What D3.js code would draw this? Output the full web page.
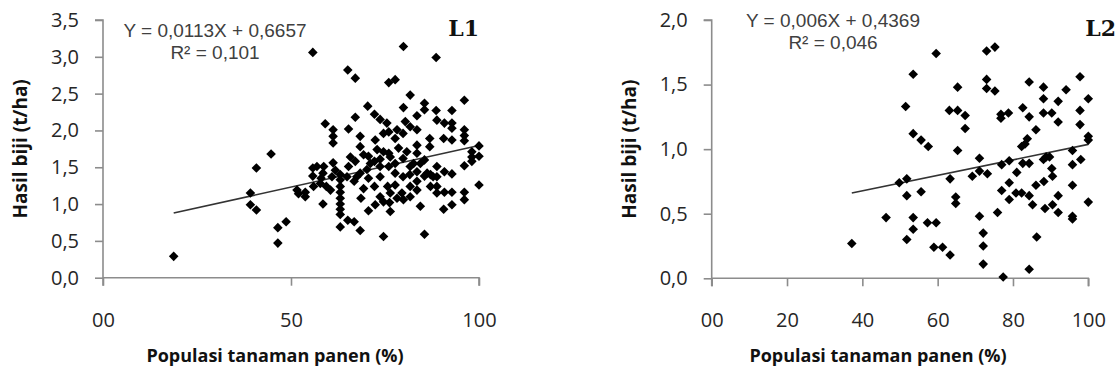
<!DOCTYPE html>
<html>
<head>
<meta charset="utf-8">
<script src="https://cdn.jsdelivr.net/npm/d3@7"></script>
<style>
  body { margin: 0; background: #fff; overflow: hidden; }
  svg { display: block; }
</style>
</head>
<body>
<script>
// plot L1 : [populasi %, hasil t/ha]
const l1Points = [
  [18.8,0.29],[39.2,1.15],[39.2,0.99],[40.8,0.92],[40.8,1.49],[44.7,1.68],[46.5,0.68],[48.7,0.76],
  [46.5,0.47],[51.6,1.19],[52.0,1.14],[53.8,1.10],[53.8,1.16],[55.8,3.06],[55.8,1.49],[55.8,1.38],
  [56.0,1.24],[57.8,1.28],[58.0,1.35],[58.5,1.42],[58.5,1.00],[59.1,2.09],[59.4,1.24],[61.2,2.01],
  [61.2,1.92],[61.2,1.83],[61.2,1.56],[63.1,1.40],[63.1,1.33],[63.1,1.24],[63.1,1.16],[63.1,1.08],
  [63.1,1.00],[63.1,0.93],[63.1,0.86],[63.1,0.69],[65.1,0.78],[66.8,0.76],[68.4,0.64],[65.1,2.82],
  [67.1,2.71],[65.3,1.51],[65.3,2.02],[64.9,1.37],[66.8,1.31],[67.1,2.18],[67.1,1.58],[68.4,1.92],
  [68.6,1.08],[68.4,1.42],[70.4,2.33],[70.6,1.65],[70.2,1.47],[70.6,1.35],[70.6,0.91],[72.2,2.22],
  [72.4,1.87],[72.2,1.58],[72.2,1.24],[72.4,0.99],[73.7,2.15],[73.7,1.61],[73.7,1.51],[73.7,1.37],
  [74.6,1.03],[74.6,0.56],[76.0,2.65],[77.7,2.69],[76.0,1.98],[76.0,1.69],[76.0,1.51],[75.7,1.24],
  [76.2,1.02],[76.4,0.90],[77.7,1.89],[77.7,1.55],[77.7,1.42],[77.7,1.26],[78.2,1.08],[79.9,3.14],
  [79.9,2.31],[79.8,1.96],[79.8,1.62],[79.8,1.37],[79.5,1.15],[81.7,2.48],[81.7,2.05],[81.7,1.51],
  [81.7,1.24],[81.6,1.40],[83.5,2.20],[83.5,1.80],[83.5,1.69],[83.5,1.44],[83.5,1.31],[83.5,1.19],
  [85.5,2.37],[85.5,2.28],[85.5,1.60],[85.5,1.38],[85.5,0.59],[86.9,1.89],[86.9,1.78],[87.1,1.40],
  [87.1,1.24],[88.6,2.99],[88.6,2.27],[88.8,2.14],[88.8,1.51],[88.8,1.37],[88.8,1.15],[90.8,2.10],
  [90.6,1.89],[90.8,1.16],[90.6,0.93],[92.8,2.27],[92.8,2.10],[92.8,2.03],[92.8,1.87],[92.8,1.41],
  [92.8,1.16],[92.8,0.99],[96.1,2.41],[96.1,2.01],[96.1,1.93],[96.1,1.86],[96.1,1.52],[96.1,1.16],
  [96.1,1.06],[98.1,1.71],[98.1,1.64],[98.1,1.58],[100,1.79],[100,1.65],[100,1.26],
  [69.3,1.67],[74.6,1.71],[76.4,1.64],[78.6,1.76],[80.8,1.71],[82.6,1.55],[84.4,1.55],[86.2,1.42],
  [87.8,1.37],[71.1,1.55],[72.9,1.74],[68.4,1.78],[65.8,1.64],[58.7,1.51],[56.9,1.51],[61.8,1.46],
  [60.5,1.19],[60.9,1.37],[67.5,1.37],[69.3,1.21],[73.7,1.10],[76.4,1.15],[79.9,1.06],[81.7,1.10],
  [84.4,0.97],[88.8,1.24],[90.8,1.44],[75.5,2.10],[80.4,2.12],[78.2,2.01],[83.5,2.01],[74.6,1.96]
];

// plot L2
const l2Points = [
  [37.2,0.27],[46.3,0.47],[49.8,0.74],[51.8,0.77],[51.8,0.64],[51.8,0.30],[51.5,1.33],[53.5,1.58],
  [53.5,1.12],[53.5,0.47],[53.5,0.38],[55.6,1.07],[55.6,0.67],[57.5,1.02],[57.3,0.43],[59.6,0.43],
  [59.6,1.74],[59.0,0.24],[61.3,0.24],[63.3,0.18],[63.3,0.77],[63.1,1.30],[65.3,1.30],[65.3,1.48],
  [65.3,0.99],[64.8,0.63],[64.8,0.58],[67.3,1.26],[67.3,1.16],[69.2,0.79],[71.1,0.93],[71.1,0.83],
  [73.2,0.81],[71.1,0.48],[72.1,0.35],[72.1,0.25],[72.1,0.11],[73.0,1.76],[75.2,1.79],[73.0,1.54],
  [73.0,1.47],[75.2,1.45],[75.9,0.51],[76.8,1.24],[76.8,1.27],[78.8,1.28],[77.0,0.88],[79.0,0.91],
  [77.0,0.68],[79.0,0.74],[79.0,0.61],[77.4,0.01],[81.0,0.82],[80.8,0.66],[82.3,0.66],[82.6,0.89],
  [82.6,1.32],[82.3,1.02],[83.2,1.04],[83.8,1.08],[84.3,0.89],[84.3,1.25],[84.3,1.52],[84.3,0.64],
  [85.2,0.57],[86.3,0.32],[84.3,0.07],[86.1,1.15],[86.1,0.72],[88.1,1.28],[88.1,0.92],[88.2,0.75],
  [88.5,0.54],[88.1,1.48],[88.1,1.39],[90.3,1.28],[89.7,0.94],[90.3,0.85],[90.5,0.79],[90.5,0.57],
  [92.0,0.64],[92.0,0.51],[92.0,1.37],[92.0,1.21],[94.1,1.46],[95.8,0.99],[95.8,0.88],[95.8,0.72],
  [95.8,0.48],[95.8,0.46],[97.8,1.56],[97.8,1.30],[97.8,1.19],[98.0,0.92],[100,1.39],[100,1.10],
  [100,1.07],[100,0.59],[88.8,0.94]
];

// regression: [slope, intercept]
const l1Fit = [0.0113, 0.6657];
const l2Fit = [0.006, 0.4369];

const l1XTicks = [0, 50, 100];
const l2XTicks = [0, 20, 40, 60, 80, 100];
const l1YTicks = [0, 0.5, 1, 1.5, 2, 2.5, 3, 3.5];
const l2YTicks = [0, 0.5, 1, 1.5, 2];

const l1Eq = ["Y = 0,0113X + 0,6657", "R\u00b2 = 0,101"];
const l2Eq = ["Y = 0,006X + 0,4369", "R\u00b2 = 0,046"];

const W = 1118, H = 380;
const svg = d3.select("body").append("svg").attr("width", W).attr("height", H);

const tickFont = '"Open Sans", "Noto Sans", sans-serif';
const axisColor = "#8c8c8c";

function drawPanel(cfg) {
    const xScale = d3.scaleLinear().domain([0, 100]).range([cfg.x0, cfg.x1]);
    const yScale = d3.scaleLinear().domain([0, cfg.yMax]).range([cfg.yBottom, cfg.yTop]);

    const xAxis = d3.axisBottom(xScale).tickValues(cfg.xTicks)
        .tickSize(8).tickPadding(27)
        .tickFormat((d) => d === 0 ? "00" : d);
    const yAxis = d3.axisLeft(yScale).tickValues(cfg.yTicks)
        .tickSize(8).tickPadding(16)
        .tickFormat((d) => d3.format(".1f")(d).replace(".", ","));

    const gx = svg.append("g")
        .attr("class", "xaxis")
        .attr("transform", "translate(0," + cfg.yBottom + ")")
        .call(xAxis);
    const gy = svg.append("g")
        .attr("class", "yaxis")
        .attr("transform", "translate(" + cfg.x0 + ",0)")
        .call(yAxis);

    [gx, gy].forEach((g) => {
        g.selectAll("path.domain").attr("stroke", axisColor).attr("stroke-width", 1.6);
        g.selectAll(".tick line").attr("stroke", axisColor).attr("stroke-width", 1.6);
        g.selectAll(".tick text")
            .attr("fill", "#262626")
            .style("font-family", tickFont)
            .style("font-size", "20px");
    });
    // y domain: no outer tick at bottom, keep top one
    gy.select("path.domain").attr("d", "M-8," + cfg.yTop + "H0V" + (cfg.yBottom + 8));
    gx.select("path.domain").attr("d", "M" + cfg.x0 + ",0H" + cfg.x1 + "V8");

    // trend line
    const xs = cfg.points.map((p) => p[0]);
    const xMin = d3.min(xs), xMax = d3.max(xs);
    svg.append("line")
        .attr("x1", xScale(xMin)).attr("y1", yScale(cfg.fit[0] * xMin + cfg.fit[1]))
        .attr("x2", xScale(xMax)).attr("y2", yScale(cfg.fit[0] * xMax + cfg.fit[1]))
        .attr("stroke", "#333").attr("stroke-width", 1.6);

    // points
    svg.append("g").attr("class", "points")
        .selectAll("path").data(cfg.points).enter().append("path")
        .attr("d", d3.symbol(d3.symbolSquare, 46))
        .attr("transform", (d) => "translate(" + xScale(d[0]) + "," + yScale(d[1]) + ") rotate(45)")
        .attr("fill", "#000");

    // equation
    const eq = svg.append("g")
        .style("font-family", '"Liberation Sans", Arial, sans-serif')
        .style("font-size", "19px")
        .attr("fill", "#404040");
    eq.append("text").attr("x", cfg.eqX).attr("y", cfg.eqY).attr("text-anchor", "middle").text(cfg.eq[0]);
    eq.append("text").attr("x", cfg.eqX).attr("y", cfg.eqY + 22).attr("text-anchor", "middle").text(cfg.eq[1]);

    // panel title
    svg.append("text")
        .attr("x", cfg.titleX).attr("y", 36)
        .attr("text-anchor", "end")
        .style("font-family", '"DejaVu Serif", serif')
        .style("font-weight", "bold")
        .style("font-size", "22px")
        .attr("fill", "#111")
        .text(cfg.title);

    // axis titles
    svg.append("text")
        .attr("transform", "translate(" + cfg.yLabelX + "," + ((cfg.yTop + cfg.yBottom) / 2) + ") rotate(-90)")
        .attr("text-anchor", "middle")
        .style("font-family", tickFont)
        .style("font-weight", "bold")
        .style("font-size", "19px")
        .attr("fill", "#111")
        .text("Hasil biji (t/ha)");

    svg.append("text")
        .attr("x", cfg.xLabelX).attr("y", 362)
        .attr("text-anchor", "middle")
        .style("font-family", tickFont)
        .style("font-weight", "bold")
        .style("font-size", "18px")
        .attr("fill", "#111")
        .text("Populasi tanaman panen (%)");
}

drawPanel({
    points: l1Points, fit: l1Fit, xTicks: l1XTicks, yTicks: l1YTicks, yMax: 3.5,
    x0: 103, x1: 479, yTop: 20, yBottom: 277.7,
    eq: l1Eq, eqX: 215, eqY: 37, title: "L1", titleX: 479,
    yLabelX: 27, xLabelX: 275
});

drawPanel({
    points: l2Points, fit: l2Fit, xTicks: l2XTicks, yTicks: l2YTicks, yMax: 2,
    x0: 711.7, x1: 1088.3, yTop: 20, yBottom: 278.3,
    eq: l2Eq, eqX: 833, eqY: 27, title: "L2", titleX: 1116,
    yLabelX: 636, xLabelX: 878
});
</script>
</body>
</html>
